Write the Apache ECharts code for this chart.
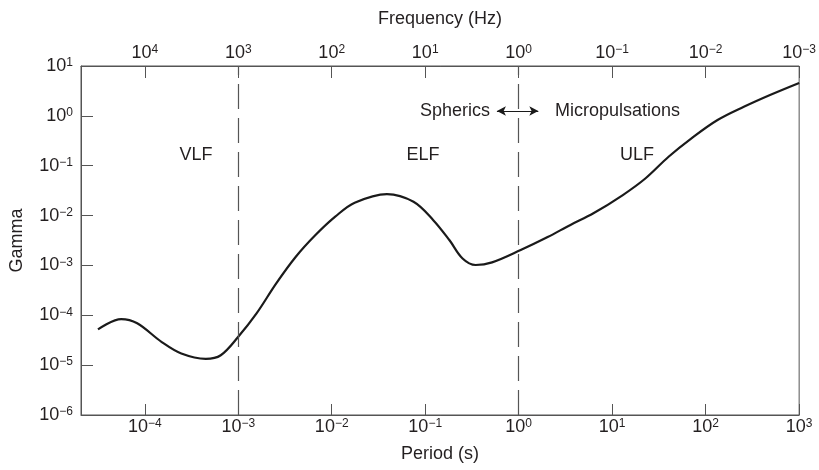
<!DOCTYPE html>
<html>
<head>
<meta charset="utf-8">
<script src="https://cdn.jsdelivr.net/npm/echarts@6/dist/echarts.min.js"></script>
<style>
  html, body { margin: 0; padding: 0; background: #fff; }
  #chart { width: 819px; height: 470px; }
</style>
</head>
<body>
<div id="chart"></div>
<script>
// period (s) and gamma
var periods = [3.16e-5, 5.6e-5, 8.3e-5, 1.52e-4, 2.46e-4, 4.5e-4, 6.5e-4, 1.0e-3, 1.57e-3,
  2.55e-3, 4.13e-3, 6.7e-3, 1.09e-2, 1.76e-2, 3.9e-2, 7.5e-2, 0.122, 0.182, 0.251, 0.346,
  0.519, 1.05, 2.04, 3.58, 6.3, 13.0, 22.8, 40.1, 70.5, 134, 256, 488, 1000];
var gamma = [5.2e-5, 8.4e-5, 6.9e-5, 2.9e-5, 1.71e-5, 1.34e-5, 1.58e-5, 3.7e-5, 1.09e-4,
  4.36e-4, 1.49e-3, 4.06e-3, 9.5e-3, 1.81e-2, 2.7e-2, 1.89e-2, 8.1e-3, 3.2e-3, 1.38e-3, 1.02e-3,
  1.15e-3, 2.03e-3, 3.7e-3, 6.5e-3, 1.11e-2, 2.58e-2, 5.6e-2, 0.151, 0.354, 0.824, 1.52, 2.62, 4.57];

// band boundaries (period, s)
var boundaries = [1e-3, 1];

// axis ranges and tick exponents
var periodMin = 2.08e-5, periodMax = 1e3;
var gammaMin = 1e-6, gammaMax = 1e1;
var periodTicks = [-4, -3, -2, -1, 0, 1, 2, 3];
var freqTicks = [4, 3, 2, 1, 0, -1, -2, -3];
var gammaTicks = [-6, -5, -4, -3, -2, -1, 0, 1];

var lg = Math.log10;
var axisColor = '#555';
var textColor = '#231f20';
var font = 'Liberation Sans';

function powLabel(v) {
  var e = Math.round(v);
  var s = e < 0 ? '\u2212' + (-e) : '' + e;
  return '{b|10}{s|' + s + '}';
}
var richLabel = {
  b: { fontSize: 18, lineHeight: 18, fontFamily: font, color: textColor },
  s: { fontSize: 12, lineHeight: 12, fontFamily: font, color: textColor, verticalAlign: 'top' }
};

var lineData = periods.map(function (p, i) { return [lg(p), lg(gamma[i])]; });

var chart = echarts.init(document.getElementById('chart'));
chart.setOption({
  animation: false,
  grid: {
    left: 81, right: 7, top: 66, bottom: 55,
    show: true, borderColor: axisColor, borderWidth: 1
  },
  xAxis: [{
    type: 'value', position: 'bottom',
    min: lg(periodMin), max: lg(periodMax),
    name: 'Period (s)', nameLocation: 'middle', nameGap: 30,
    nameTextStyle: { fontSize: 18, fontFamily: font, color: textColor },
    axisLine: { show: true, onZero: false, lineStyle: { color: axisColor, width: 1 } },
    axisTick: { show: true, inside: true, length: 11, customValues: periodTicks, lineStyle: { color: axisColor } },
    axisLabel: { customValues: periodTicks, margin: 3, formatter: powLabel, rich: richLabel },
    splitLine: { show: false }
  }, {
    type: 'value', position: 'top', inverse: true,
    min: -lg(periodMax), max: -lg(periodMin),
    name: 'Frequency (Hz)', nameLocation: 'middle', nameGap: 38,
    nameTextStyle: { fontSize: 18, fontFamily: font, color: textColor },
    axisLine: { show: true, onZero: false, lineStyle: { color: axisColor, width: 1 } },
    axisTick: { show: true, inside: true, length: 12, customValues: freqTicks, lineStyle: { color: axisColor } },
    axisLabel: { customValues: freqTicks, margin: 4, formatter: powLabel, rich: richLabel },
    splitLine: { show: false }
  }],
  yAxis: [{
    type: 'value', position: 'left',
    min: lg(gammaMin), max: lg(gammaMax), interval: 1,
    name: 'Gamma', nameLocation: 'middle', nameGap: 55,
    nameTextStyle: { fontSize: 18, fontFamily: font, color: textColor },
    axisLine: { show: true, onZero: false, lineStyle: { color: axisColor, width: 1 } },
    axisTick: { show: true, inside: true, length: 12, customValues: gammaTicks, lineStyle: { color: axisColor } },
    axisLabel: { customValues: gammaTicks, margin: 8, formatter: powLabel, rich: richLabel },
    splitLine: { show: false }
  }],
  series: [{
    type: 'line',
    xAxisIndex: 0, yAxisIndex: 0,
    data: lineData,
    smooth: 0.35,
    showSymbol: false,
    lineStyle: { color: '#1a1a1a', width: 2.2 },
    markLine: {
      silent: true,
      symbol: ['none', 'none'],
      label: { show: false },
      lineStyle: { color: axisColor, width: 1.2, type: [25, 9] },
      data: boundaries.map(function (b) { return { xAxis: lg(b) }; })
    }
  }, {
    type: 'line',
    xAxisIndex: 0, yAxisIndex: 0,
    data: [],
    markLine: {
      silent: true,
      symbol: ['arrow', 'arrow'],
      symbolSize: [7, 9],
      label: { show: false },
      lineStyle: { color: '#1a1a1a', width: 1, type: 'solid' },
      data: [[{ coord: [-0.233, 0.097] }, { coord: [0.21, 0.097] }]]
    }
  }],
  graphic: [
    { type: 'text', x: 196, y: 155, style: { text: 'VLF', fill: textColor, font: '18px ' + font, textAlign: 'center', textVerticalAlign: 'middle' } },
    { type: 'text', x: 423, y: 155, style: { text: 'ELF', fill: textColor, font: '18px ' + font, textAlign: 'center', textVerticalAlign: 'middle' } },
    { type: 'text', x: 637, y: 155, style: { text: 'ULF', fill: textColor, font: '18px ' + font, textAlign: 'center', textVerticalAlign: 'middle' } },
    { type: 'text', x: 490, y: 111, style: { text: 'Spherics', fill: textColor, font: '18px ' + font, textAlign: 'right', textVerticalAlign: 'middle' } },
    { type: 'text', x: 555, y: 111, style: { text: 'Micropulsations', fill: textColor, font: '18px ' + font, textAlign: 'left', textVerticalAlign: 'middle' } }
  ]
});
</script>
</body>
</html>
